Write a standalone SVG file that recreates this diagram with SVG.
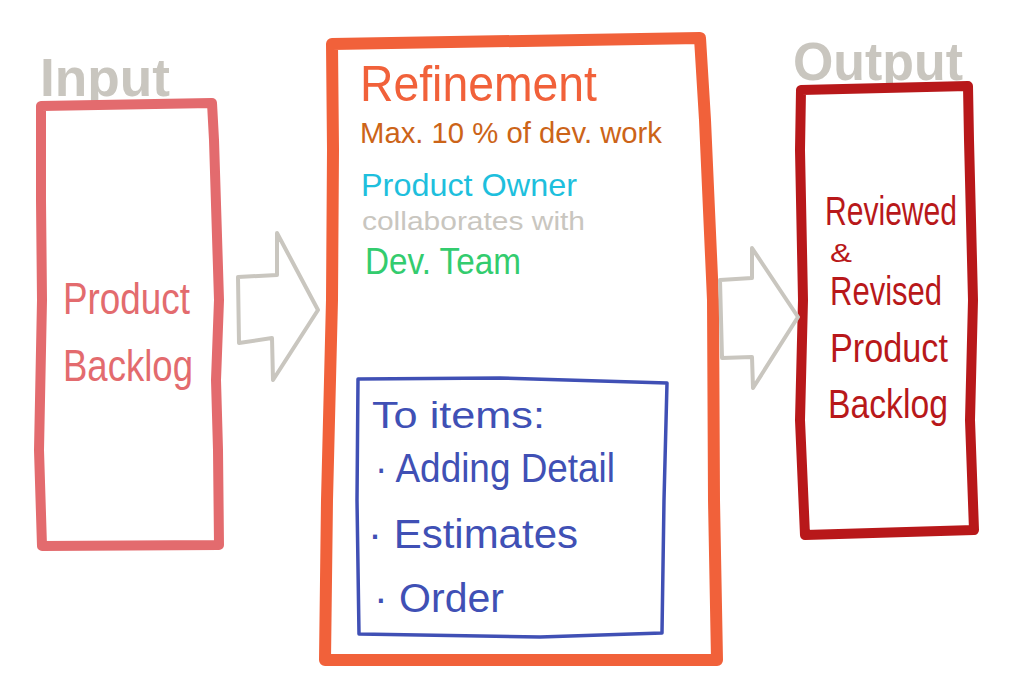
<svg xmlns="http://www.w3.org/2000/svg" width="1024" height="699" viewBox="0 0 1024 699">
<style>
text{font-family:"Liberation Sans","Open Sans",sans-serif}
.box{fill:none;stroke-linejoin:round;stroke-linecap:round}
.arrow{fill:none;stroke:#C9C6BF;stroke-width:4;stroke-linejoin:round}
.gray{fill:#C9C6BF;font-weight:bold}
</style>
<rect width="1024" height="699" fill="#FFFFFF"/>
<g id="input">
<text class="gray" x="40" y="96" font-size="54" textLength="130" lengthAdjust="spacingAndGlyphs">Input</text>
<path class="box" stroke="#E36B6E" stroke-width="10" d="M41,106 L212,103 L214,140 L219,300 L216,380 L218,450 L219,545 L42,546 L39,450 L42,300 L41,200 Z"/>
<text fill="#E36B6E" x="63" y="314" font-size="44" textLength="127" lengthAdjust="spacingAndGlyphs">Product</text>
<text fill="#E36B6E" x="63" y="381" font-size="44" textLength="130" lengthAdjust="spacingAndGlyphs">Backlog</text>
</g>
<g id="refinement">
<path class="box" stroke="#F1613A" stroke-width="12" d="M332,44 L700,38 L705,120 L713,300 L714,500 L717,660 L325,660 L327,500 L332,300 L333,150 Z"/>
<text fill="#F1613A" x="360" y="101" font-size="50" textLength="237" lengthAdjust="spacingAndGlyphs">Refinement</text>
<text fill="#CC6418" x="360" y="143" font-size="30" textLength="302" lengthAdjust="spacingAndGlyphs">Max. 10 % of dev. work</text>
<text fill="#1EBFDD" x="361" y="196" font-size="32" textLength="216" lengthAdjust="spacingAndGlyphs">Product Owner</text>
<text fill="#C9C6BF" x="362" y="230" font-size="26" textLength="223" lengthAdjust="spacingAndGlyphs">collaborates with</text>
<text fill="#33CC6E" x="365" y="274" font-size="36" textLength="156" lengthAdjust="spacingAndGlyphs">Dev. Team</text>
</g>
<g id="items">
<path class="box" stroke="#4050B5" stroke-width="3.5" d="M358,379 L500,378 L667,383 L664,500 L662,633 L540,637 L359,634 L357,500 Z"/>
<text fill="#4050B5" x="372" y="428" font-size="36" textLength="173" lengthAdjust="spacingAndGlyphs">To items:</text>
<text fill="#4050B5" x="375" y="482" font-size="40" textLength="240" lengthAdjust="spacingAndGlyphs">· Adding Detail</text>
<text fill="#4050B5" x="368" y="548" font-size="40" textLength="210" lengthAdjust="spacingAndGlyphs">· Estimates</text>
<text fill="#4050B5" x="374" y="612" font-size="40" textLength="130" lengthAdjust="spacingAndGlyphs">· Order</text>
</g>
<g id="output">
<text class="gray" x="793" y="80" font-size="54" textLength="170" lengthAdjust="spacingAndGlyphs">Output</text>
<path class="box" stroke="#B8181A" stroke-width="10" d="M801,90 L968,86 L969,140 L973,300 L970,420 L974,530 L805,535 L800,420 L803,300 L800,150 Z"/>
<text fill="#B8181A" x="825" y="225" font-size="40" textLength="132" lengthAdjust="spacingAndGlyphs">Reviewed</text>
<text fill="#B8181A" x="830" y="262" font-size="26" textLength="22" lengthAdjust="spacingAndGlyphs">&amp;</text>
<text fill="#B8181A" x="830" y="305" font-size="40" textLength="112" lengthAdjust="spacingAndGlyphs">Revised</text>
<text fill="#B8181A" x="830" y="362" font-size="40" textLength="118" lengthAdjust="spacingAndGlyphs">Product</text>
<text fill="#B8181A" x="828" y="418" font-size="40" textLength="120" lengthAdjust="spacingAndGlyphs">Backlog</text>
</g>
<g id="connectors">
<path class="arrow" d="M238,277 L277,275 L277,233 L318,310 L273,380 L272,338 L239,343 Z"/>
<path class="arrow" d="M720,280 L752,278 L752,248 L798,317 L753,388 L752,357 L722,358 Z"/>
</g>
</svg>
